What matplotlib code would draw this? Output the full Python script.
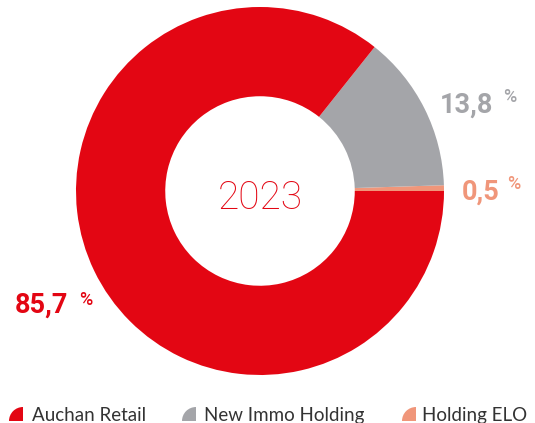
import matplotlib.pyplot as plt
from matplotlib.patches import Wedge

# data
labels = ["Holding ELO", "New Immo Holding", "Auchan Retail"]
values = [0.5, 13.8, 85.7]
colors = ["#F0967A", "#A4A5A9", "#E30613"]
value_text = ["0,5", "13,8", "85,7"]
year = "2023"

plt.rcParams['font.family'] = ['Lato', 'DejaVu Sans']

W, H = 535, 423
fig = plt.figure(figsize=(W / 100, H / 100), dpi=100)

# donut: centre (260,191) px, radius 184 px
cx, cy, r = 260, 191, 184
ax = fig.add_axes([(cx - r) / W, (H - cy - r) / H, 2 * r / W, 2 * r / H])
ax.pie(values, colors=colors, startangle=0, counterclock=True, radius=1,
       wedgeprops=dict(width=0.485, linewidth=0))
ax.set_xlim(-1, 1)
ax.set_ylim(-1, 1)
ax.set_aspect('equal')
ax.axis('off')
ax.text(0.0, -0.04, year, ha='center', va='center', fontsize=28,
        family=['Roboto', 'DejaVu Sans'], fontweight='light', color="#E30613")

# overlay in pixel coords (y up)
ov = fig.add_axes([0, 0, 1, 1])
ov.set_xlim(0, W)
ov.set_ylim(0, H)
ov.axis('off')

# value labels (x, y baseline in px from top)
lab_pos = [(462, 200, 507, 189), (440, 113, 503, 102), (15, 313, 79, 305)]
for (x, y, px, py), t, c in zip(lab_pos, value_text, colors):
    ov.text(x, H - y, t, fontsize=19.5, fontweight='bold', color=c,
            family=['Roboto', 'DejaVu Sans'], ha='left', va='baseline')
    ov.text(px, H - py, "%", fontsize=13, fontweight='medium', color=c,
            family=['Roboto', 'DejaVu Sans'], ha='left', va='baseline')

# legend with quarter-circle icons
leg_pos = [(402, 422), (182, 204), (9, 32)]
for (ix, tx), name, c in zip(leg_pos, labels, colors):
    ov.add_patch(Wedge((ix + 14, H - 421), 14, 90, 180, color=c, lw=0))
    ov.text(tx, H - 421, name, fontsize=13.5, color="#333333",
            ha='left', va='baseline')

fig.savefig("out.png", dpi=100)
